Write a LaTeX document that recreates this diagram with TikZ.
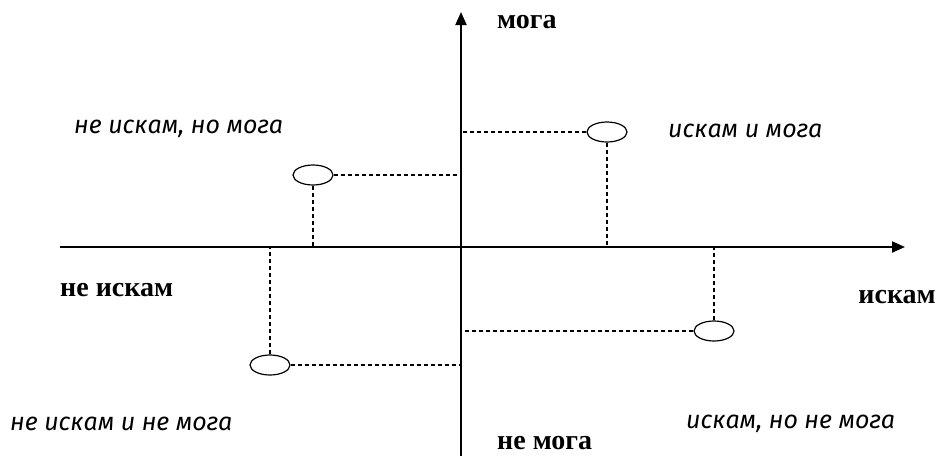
\documentclass[tikz,border=0pt]{standalone}
\usepackage{fontspec}
\setmainfont{Liberation Serif}
\newfontfamily\quadfont{Fira Sans}
\usetikzlibrary{arrows.meta,shapes.geometric}
\begin{document}
\begin{tikzpicture}[x=1pt,y=-1pt,
    point/.style ={ellipse, draw, line width=1.2pt, minimum width=40pt, minimum height=20pt, inner sep=0pt},
    axis/.style ={line width=2pt, -{Triangle[length=13pt,width=11pt]}},
    guide/.style ={line width=1.2pt, dash pattern=on 4pt off 3pt},
    axislabel/.style ={inner sep=0pt, font=\fontsize{28}{30}\selectfont\bfseries},
    quadrant/.style ={inner sep=0pt, font=\quadfont\itshape\fontsize{25}{27}\selectfont}]
   \useasboundingbox (0,0) rectangle (936,456);
   \coordinate (O) at (461,247);
   \coordinate (W) at (60,247);
   \coordinate (E) at (905,247);
   \coordinate (S) at (461,456);
   \coordinate (N) at (461,12);

   \draw[axis] (W) to (E);
   \draw[axis] (S) to (N);

   \node[point] (A) at (607,132) {};
   \node[point] (B) at (313,175) {};
   \node[point] (C) at (270,365) {};
   \node[point] (D) at (714,331) {};

   \draw[guide] (A.west) to (A.west -| O);
   \draw[guide] (A.south) to (A.south |- O);
   \draw[guide] (B.east) to (B.east -| O);
   \draw[guide] (B.south) to (B.south |- O);
   \draw[guide] (C.east) to (C.east -| O);
   \draw[guide] (C.north) to (C.north |- O);
   \draw[guide] (D.west) to (D.west -| O);
   \draw[guide] (D.north) to (D.north |- O);

   \node[axislabel, anchor=west] (can) at (497,22) {мога};
   \node[axislabel, anchor=west] (cannot) at (497,443) {не мога};
   \node[axislabel, anchor=west] (notwant) at (60,290) {не искам};
   \node[axislabel, anchor=east] (want) at (936,297) {искам};

   \node[quadrant, anchor=west] (AB) at (74,129) {не искам, но мога};
   \node[quadrant, anchor=west] (AA) at (668,131) {искам и мога};
   \node[quadrant, anchor=west] (BB) at (10,424) {не искам и не мога};
   \node[quadrant, anchor=west] (BA) at (686,424) {искам, но не мога};
 \end{tikzpicture}
\end{document}
